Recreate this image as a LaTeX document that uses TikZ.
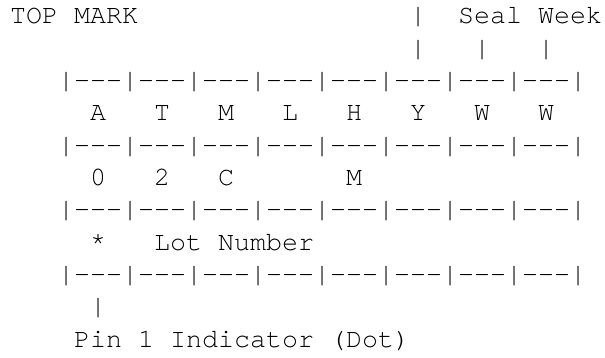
\documentclass[tikz,border=0pt]{standalone}
\usepackage{fontspec}
\setmonofont{TeX Gyre Cursor}
\begin{document}
\begin{tikzpicture}[x=1pt,y=-1pt,
  txt/.style={anchor=base west, inner sep=0pt, outer sep=0pt,
    font=\ttfamily\fontsize{26.67}{32}\selectfont, text=black}]
\useasboundingbox[fill=white] (0,0) rectangle (605,358);
% row 0
\node[txt] (topmark) at (10,24) {TOP MARK};
\node[txt] (bar0a) at (410,24) {|};
\node[txt] (sealweek) at (458,24) {Seal Week};
% row 1
\node[txt] (bar1a) at (410,56.3) {|};
\node[txt] (bar1b) at (474,56.3) {|};
\node[txt] (bar1c) at (538,56.3) {|};
% grid rows
\node[txt] (grid1) at (58,88.6) {|---|---|---|---|---|---|---|---|};
\node[txt] (grid2) at (58,153.2) {|---|---|---|---|---|---|---|---|};
\node[txt] (grid3) at (58,217.8) {|---|---|---|---|---|---|---|---|};
\node[txt] (grid4) at (58,282.4) {|---|---|---|---|---|---|---|---|};
% row 3 letters
\node[txt] (lA) at (90,120.9) {A};
\node[txt] (lT) at (154,120.9) {T};
\node[txt] (lM) at (218,120.9) {M};
\node[txt] (lL) at (282,120.9) {L};
\node[txt] (lH) at (346,120.9) {H};
\node[txt] (lY) at (410,120.9) {Y};
\node[txt] (lW1) at (474,120.9) {W};
\node[txt] (lW2) at (538,120.9) {W};
% row 5
\node[txt] (d0) at (90,185.5) {0};
\node[txt] (d2) at (154,185.5) {2};
\node[txt] (dC) at (218,185.5) {C};
\node[txt] (dM) at (346,185.5) {M};
% row 7
\node[txt] (star) at (90,250.1) {*};
\node[txt] (lot) at (154,250.1) {Lot Number};
% row 9
\node[txt] (bar9) at (90,314.7) {|};
% row 10
\node[txt] (pin) at (74,347) {Pin 1 Indicator (Dot)};
\end{tikzpicture}
\end{document}
